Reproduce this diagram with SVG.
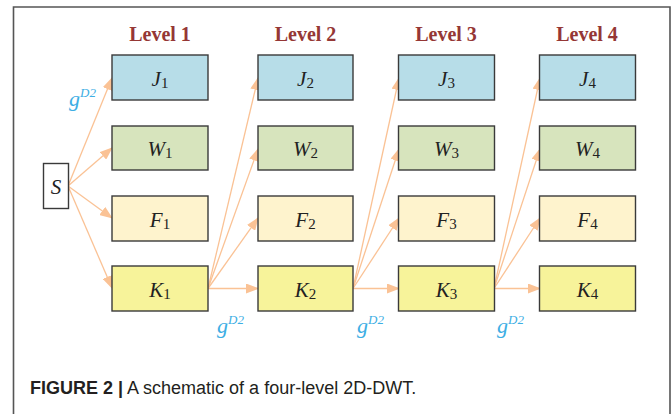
<svg xmlns="http://www.w3.org/2000/svg" width="672" height="414" viewBox="0 0 672 414">
<style>
.bx{stroke:#3a3a3a;stroke-width:1.4}
.J{fill:#B7DDE8}.W{fill:#D7E4BD}.F{fill:#FEF3CD}.K{fill:#F7F39A}
.lbl{font-family:"Liberation Serif",serif;font-style:italic;font-size:21px;fill:#222;text-anchor:middle}
.sub{font-style:normal;font-size:15px}
.lvl{font-family:"Liberation Serif",serif;font-weight:bold;font-size:20px;fill:#953735;text-anchor:middle}
.g{font-family:"Liberation Serif",serif;font-style:italic;font-size:22px;fill:#3DAEE4}
.sup{font-size:13px}
.cn line{stroke:#FAC295;stroke-width:1.3;fill:none;marker-end:url(#ah)}
.cap{font-family:"Liberation Sans",Arial,sans-serif;font-size:18px;fill:#231F20}
</style>
<defs>
<marker id="ah" markerUnits="userSpaceOnUse" markerWidth="13" markerHeight="10" refX="12" refY="5" orient="auto">
<path d="M0,0 L13,5 L0,10 z" fill="#FAC295"/>
</marker>
</defs>
<rect width="672" height="414" fill="#fff"/>
<path d="M13.5,420 V7 H670 V420" fill="none" stroke="#555" stroke-width="1.6"/>

<g id="levels">
<text class="lvl" x="160" y="41">Level 1</text>
<text class="lvl" x="305.5" y="41">Level 2</text>
<text class="lvl" x="446" y="41">Level 3</text>
<text class="lvl" x="587" y="41">Level 4</text>
</g>

<g class="cn" id="connectors">
<line x1="68" y1="186" x2="112" y2="78"/>
<line x1="68" y1="186" x2="112" y2="148"/>
<line x1="68" y1="186" x2="112" y2="218"/>
<line x1="68" y1="186" x2="112" y2="288"/>
<line x1="208" y1="288.5" x2="258" y2="78"/>
<line x1="208" y1="288.5" x2="258" y2="149"/>
<line x1="208" y1="288.5" x2="258" y2="218"/>
<line x1="208" y1="288.5" x2="258" y2="288.5"/>
<line x1="353" y1="288.5" x2="399" y2="78"/>
<line x1="353" y1="288.5" x2="399" y2="149"/>
<line x1="353" y1="288.5" x2="399" y2="218"/>
<line x1="353" y1="288.5" x2="399" y2="288.5"/>
<line x1="494" y1="288.5" x2="540" y2="78"/>
<line x1="494" y1="288.5" x2="540" y2="149"/>
<line x1="494" y1="288.5" x2="540" y2="218"/>
<line x1="494" y1="288.5" x2="540" y2="288.5"/>
</g>

<g id="S"><rect class="bx" x="43.5" y="163.5" width="25" height="45" fill="#fff"/><text class="lbl" x="56" y="193.5">S</text></g>

<g id="J1"><rect class="bx J" x="112" y="55" width="96" height="45"/><text class="lbl" x="160" y="85.5">J<tspan class="sub" dy="2">1</tspan></text></g>
<g id="W1"><rect class="bx W" x="112" y="126" width="96" height="44"/><text class="lbl" x="160" y="156">W<tspan class="sub" dy="2">1</tspan></text></g>
<g id="F1"><rect class="bx F" x="112" y="196" width="96" height="45"/><text class="lbl" x="160" y="226.5">F<tspan class="sub" dy="2">1</tspan></text></g>
<g id="K1"><rect class="bx K" x="112" y="266" width="96" height="45"/><text class="lbl" x="160" y="296.5">K<tspan class="sub" dy="2">1</tspan></text></g>

<g id="J2"><rect class="bx J" x="258" y="55" width="95" height="45"/><text class="lbl" x="305.5" y="85.5">J<tspan class="sub" dy="2">2</tspan></text></g>
<g id="W2"><rect class="bx W" x="258" y="126" width="95" height="44"/><text class="lbl" x="305.5" y="156">W<tspan class="sub" dy="2">2</tspan></text></g>
<g id="F2"><rect class="bx F" x="258" y="196" width="95" height="45"/><text class="lbl" x="305.5" y="226.5">F<tspan class="sub" dy="2">2</tspan></text></g>
<g id="K2"><rect class="bx K" x="258" y="266" width="95" height="45"/><text class="lbl" x="305.5" y="296.5">K<tspan class="sub" dy="2">2</tspan></text></g>

<g id="J3"><rect class="bx J" x="398.5" y="55" width="96" height="45"/><text class="lbl" x="446.5" y="85.5">J<tspan class="sub" dy="2">3</tspan></text></g>
<g id="W3"><rect class="bx W" x="398.5" y="126" width="96" height="44"/><text class="lbl" x="446.5" y="156">W<tspan class="sub" dy="2">3</tspan></text></g>
<g id="F3"><rect class="bx F" x="398.5" y="196" width="96" height="45"/><text class="lbl" x="446.5" y="226.5">F<tspan class="sub" dy="2">3</tspan></text></g>
<g id="K3"><rect class="bx K" x="398.5" y="266" width="96" height="45"/><text class="lbl" x="446.5" y="296.5">K<tspan class="sub" dy="2">3</tspan></text></g>

<g id="J4"><rect class="bx J" x="539.5" y="55" width="96" height="45"/><text class="lbl" x="587.5" y="85.5">J<tspan class="sub" dy="2">4</tspan></text></g>
<g id="W4"><rect class="bx W" x="539.5" y="126" width="96" height="44"/><text class="lbl" x="587.5" y="156">W<tspan class="sub" dy="2">4</tspan></text></g>
<g id="F4"><rect class="bx F" x="539.5" y="196" width="96" height="45"/><text class="lbl" x="587.5" y="226.5">F<tspan class="sub" dy="2">4</tspan></text></g>
<g id="K4"><rect class="bx K" x="539.5" y="266" width="96" height="45"/><text class="lbl" x="587.5" y="296.5">K<tspan class="sub" dy="2">4</tspan></text></g>

<g id="glabels">
<text class="g" x="69" y="106">g<tspan class="sup" dy="-9">D2</tspan></text>
<text class="g" x="217" y="333">g<tspan class="sup" dy="-9">D2</tspan></text>
<text class="g" x="357" y="333">g<tspan class="sup" dy="-9">D2</tspan></text>
<text class="g" x="497" y="333">g<tspan class="sup" dy="-9">D2</tspan></text>
</g>

<text class="cap" x="30" y="394"><tspan font-weight="bold">FIGURE 2 |</tspan> A schematic of a four-level 2D-DWT.</text>
</svg>
